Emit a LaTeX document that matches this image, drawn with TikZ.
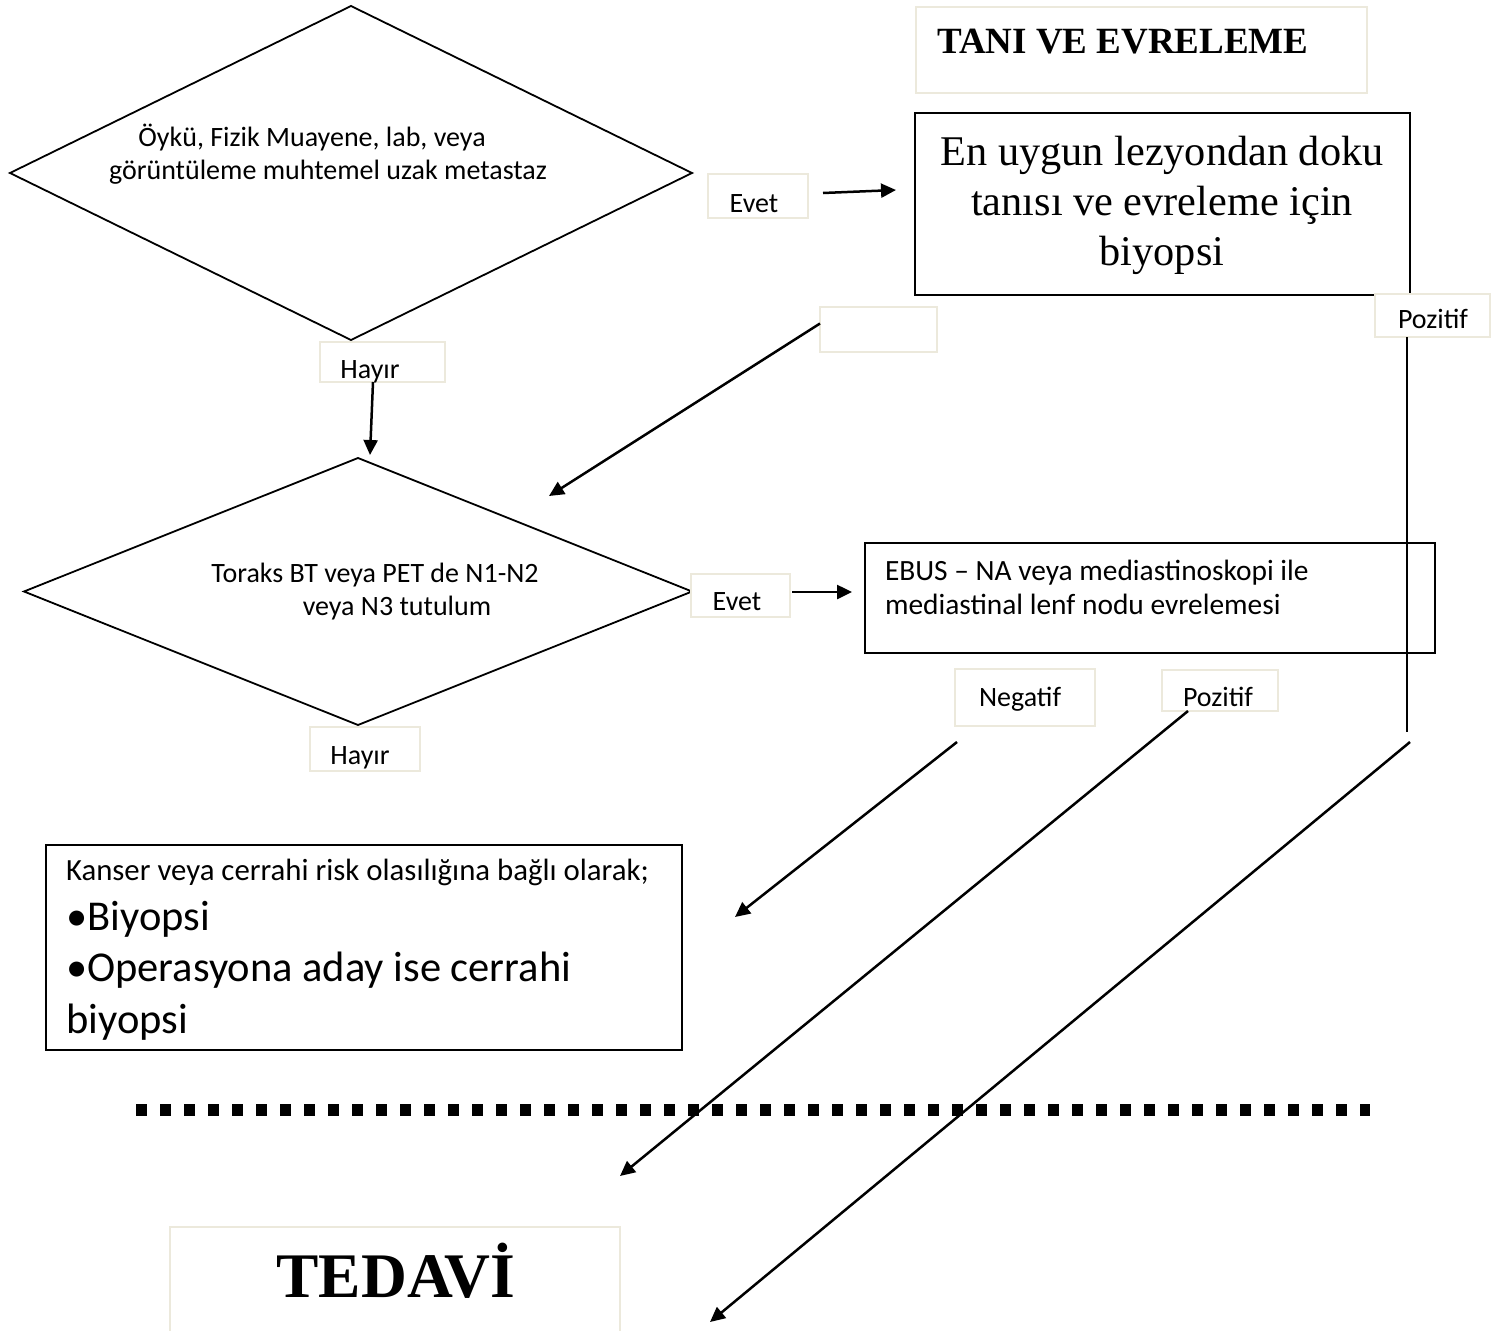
\documentclass[tikz,border=0pt]{standalone}
\usepackage{fontspec}
\setmainfont{Carlito}
\newfontfamily\tnr{Liberation Serif}
\usetikzlibrary{shapes.geometric,arrows.meta}
\definecolor{lblborder}{RGB}{236,233,220}
\tikzset{
  dia/.style={diamond, draw, line width=1.8pt, inner sep=0pt, outer sep=0pt},
  blk/.style={rectangle, draw, line width=2pt, fill=white, inner sep=0pt, outer sep=0pt},
  lbl/.style={rectangle, draw=lblborder, line width=2pt, fill=white, inner sep=0pt, outer sep=0pt},
  txt/.style={inner sep=0pt, outer sep=0pt, font=\fontsize{28}{33}\selectfont},
  arr/.style={line width=2.5pt, -{Triangle[length=15pt,width=14pt]}},
  plainline/.style={line width=2.5pt},
}
\begin{document}
\begin{tikzpicture}[x=1pt,y=-1pt]
\useasboundingbox[fill=white] (0,0) rectangle (1495,1330);

% separator
\draw[line width=12pt, dash pattern=on 11pt off 13pt] (136,1110) -- (1370,1110);

% diamonds
\node[dia, minimum width=682pt, minimum height=334pt] (d1) at (351,173) {};
\node[txt, align=center, anchor=base] (t1) at (328,179)
  {Öykü, Fizik Muayene, lab, veya\hspace*{32pt}\\görüntüleme muhtemel uzak metastaz};
\node[dia, minimum width=668pt, minimum height=267pt] (d2) at (358,591.5) {};
\node[txt, align=center, anchor=base] (t2) at (375,615)
  {Toraks BT veya PET de N1-N2\\\hspace*{44pt}veya N3 tutulum};

% title box
\node[lbl, minimum width=451pt, minimum height=86pt] (title) at (1141.5,50) {};
\node[inner sep=0pt, anchor=base west, font=\tnr\bfseries\fontsize{37}{44}\selectfont] (titletxt) at (937,53) {TANI VE EVRELEME};

% biopsy box
\node[blk, minimum width=495pt, minimum height=182pt] (bx) at (1162.5,204) {};
\node[inner sep=0pt, align=center, anchor=base, font=\tnr\fontsize{42.3}{50}\selectfont] (bxt) at (1162,265)
  {En uygun lezyondan doku\\tanısı ve evreleme için\\biyopsi};

% label boxes
\node[lbl, minimum width=125pt, minimum height=40pt] (h1) at (382.5,362) {};
\node[txt, anchor=base] (h1t) at (370,378) {Hayır};
\node[lbl, minimum width=110pt, minimum height=44pt] (h2) at (365,749) {};
\node[txt, anchor=base] (h2t) at (360,764) {Hayır};
\node[lbl, minimum width=100pt, minimum height=44pt] (e1) at (758,196) {};
\node[txt, anchor=base] (e1t) at (754,212) {Evet};
\node[lbl, minimum width=99pt, minimum height=43pt] (e2) at (740.5,595.5) {};
\node[txt, anchor=base] (e2t) at (737,610) {Evet};
\node[lbl, minimum width=115pt, minimum height=43pt] (p1) at (1432.5,315.5) {};
\node[txt, anchor=base] (p1t) at (1433,328) {Pozitif};
\node[lbl, minimum width=117pt, minimum height=45pt] (emp) at (878.5,329.5) {};
\node[lbl, minimum width=140pt, minimum height=57pt] (neg) at (1025,697.5) {};
\node[txt, anchor=base] (negt) at (1020,706) {Negatif};
\node[lbl, minimum width=116pt, minimum height=41pt] (p2) at (1220,690.5) {};
\node[txt, anchor=base] (p2t) at (1218,706) {Pozitif};

% EBUS box
\node[blk, minimum width=570pt, minimum height=110pt] (ebus) at (1150,598) {};
\node[txt, align=left, anchor=base west, font=\fontsize{29.4}{34}\selectfont] (ebust) at (885,614)
  {EBUS – NA veya mediastinoskopi ile\\mediastinal lenf nodu evrelemesi};

% Kanser box
\node[blk, minimum width=636pt, minimum height=205pt] (kb) at (364,947.5) {};
\node[txt, anchor=base west, font=\fontsize{30.8}{36}\selectfont] (k1) at (66,880) {Kanser veya cerrahi risk olasılığına bağlı olarak;};
\node[inner sep=0pt, align=left, anchor=base west, font=\fontsize{42.5}{51.5}\selectfont] (k2) at (66,1033)
  {•Biyopsi\\•Operasyona aday ise cerrahi\\biyopsi};

% TEDAVI box
\node[lbl, minimum width=450pt, minimum height=118pt] (ted) at (395,1286) {};
\node[inner sep=0pt, anchor=base, font=\tnr\bfseries\fontsize{63.5}{70}\selectfont] (tedt) at (396,1297) {TEDAVİ};

% coordinates for free ends
\coordinate (a3e) at (549,496);
\coordinate (vend) at (1407,732);
\coordinate (a5e) at (735,917);
\coordinate (a6e) at (620,1176);
\coordinate (a7s) at (1410,742);
\coordinate (a7e) at (710,1322);

% connectors
\draw[arr] ([xshift=-9.5pt]h1.south) -- ([xshift=12pt,yshift=3pt]d2.north);
\draw[arr] ([xshift=15pt,yshift=3pt]e1.east) -- ([xshift=-19pt,yshift=14pt]bx.west);
\draw[arr] ([yshift=6pt]emp.west) -- (a3e);
\draw[arr] ([xshift=2pt,yshift=3.5pt]e2.east) -- ([xshift=-13pt,yshift=6pt]ebus.west);
\draw[plainline] ([xshift=-25.5pt]p1.south) -- (vend);
\draw[arr] ([xshift=2pt,yshift=-16pt]neg.south west) -- (a5e);
\draw[arr] ([xshift=26pt]p2.south west) -- (a6e);
\draw[arr] (a7s) -- (a7e);
\end{tikzpicture}
\end{document}
